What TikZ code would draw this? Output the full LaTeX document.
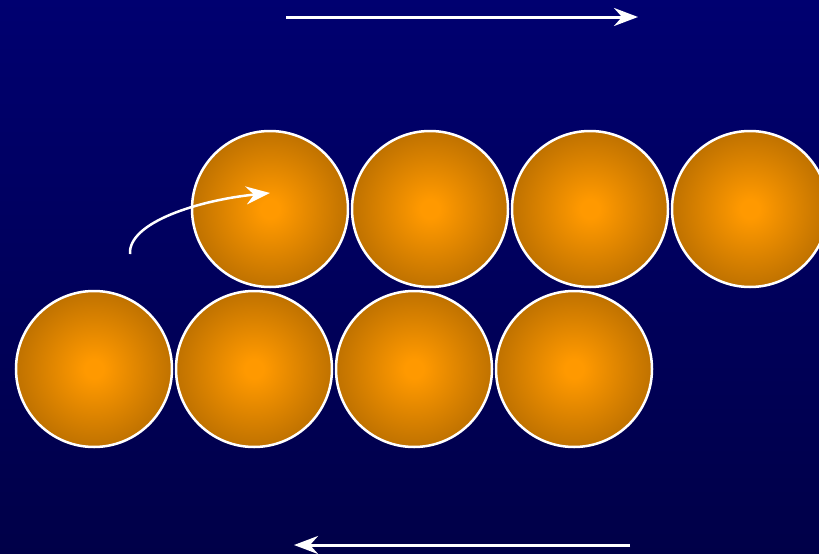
\documentclass[tikz,border=0pt]{standalone}
\usetikzlibrary{arrows.meta}
\definecolor{bgtop}{RGB}{0,0,112}
\definecolor{bgbot}{RGB}{0,0,72}
\definecolor{ballin}{RGB}{255,153,0}
\definecolor{ballout}{RGB}{174,103,0}
\pgfdeclareradialshading{ball}{\pgfpoint{0bp}{0bp}}{color(0bp)=(ballin); color(3bp)=(ballin); color(31bp)=(ballout); color(50bp)=(ballout)}
\tikzset{
  ball/.style={circle, minimum size=156pt, inner sep=0pt, draw=white, line width=2.5pt, shading=ball},
  whitearrow/.style={draw=white, line width=3pt, -{Stealth[length=24pt,width=18pt,inset=8pt]}}
}
\begin{document}
\begin{tikzpicture}[x=1pt,y=-1pt]
\useasboundingbox (0,0) rectangle (819,554);
\clip (0,0) rectangle (819,554);
\shade[top color=bgtop, bottom color=bgbot] (0,0) rectangle (819,554);
\node[ball] (t1) at (270,209) {};
\node[ball] (t2) at (430,209) {};
\node[ball] (t3) at (590,209) {};
\node[ball] (t4) at (750,209) {};
\node[ball] (b1) at (94,369) {};
\node[ball] (b2) at (254,369) {};
\node[ball] (b3) at (414,369) {};
\node[ball] (b4) at (574,369) {};
\coordinate (ta) at (286,17);
\coordinate (tb) at (638,17);
\coordinate (ba) at (630,545);
\coordinate (bb) at (294,545);
\coordinate (ca) at (130,254);
\coordinate (cb) at (270,193);
\draw[whitearrow] (ta) -- (tb);
\draw[whitearrow] (ba) -- (bb);
\draw[whitearrow, line width=2.5pt] (ca) .. controls (128,222) and (200,200) .. (cb);
\end{tikzpicture}
\end{document}
